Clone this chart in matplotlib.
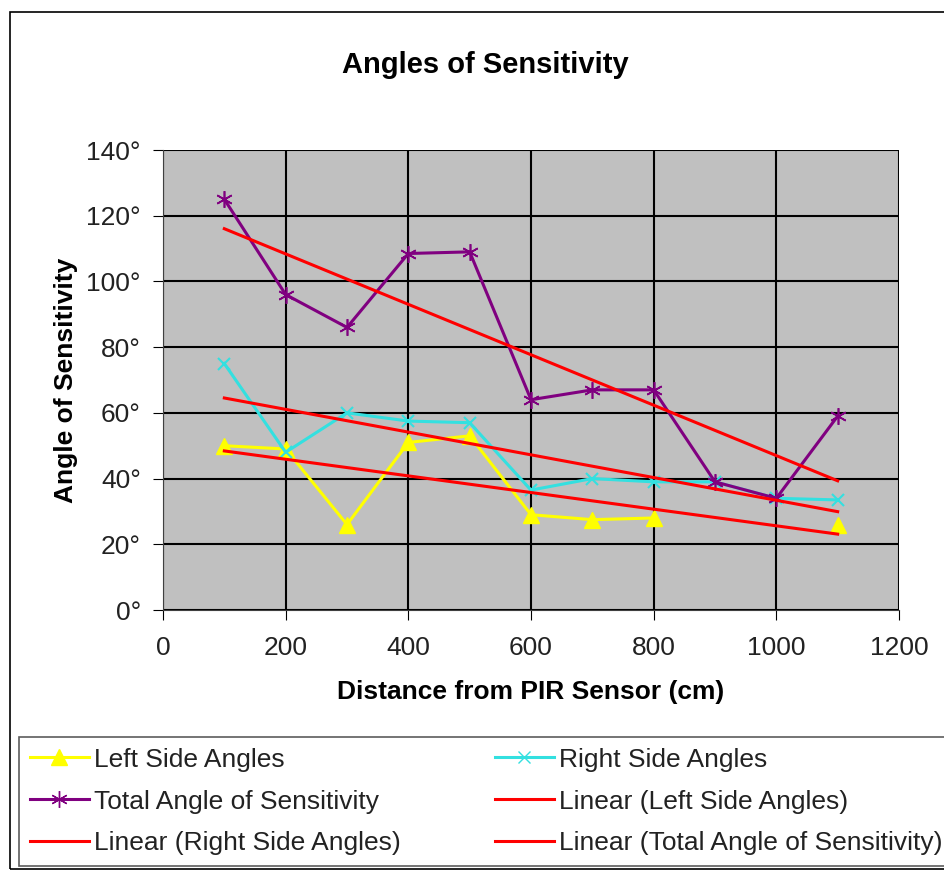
import numpy as np
import matplotlib

matplotlib.use("Agg")
import matplotlib.pyplot as plt
from matplotlib.lines import Line2D
from matplotlib.patches import Rectangle

plt.rcParams["font.family"] = ["Liberation Sans", "DejaVu Sans"]

distance = [100, 200, 300, 400, 500, 600, 700, 800, 900, 1000, 1100]
left_angles = [50, 49, 26, 51, 53, 29, 27.5, 28, np.nan, np.nan, 26]
right_angles = [75, 48, 60, 57.5, 57, 36.5, 40, 39, 39, 34, 33.5]
total_angles = [125, 96, 86, 108.5, 109, 64, 67, 67, 39, 34, 59]

YELLOW, CYAN, PURPLE, RED = "#ffff00", "#33e0e0", "#800080", "#ff0000"
TXT = "#222222"


def trend(x, y):
    # least-squares line over the points that exist, like an Excel trendline
    x = np.asarray(x, float)
    y = np.asarray(y, float)
    ok = ~np.isnan(y)
    k, b = np.polyfit(x[ok], y[ok], 1)
    xs = np.array([x.min(), x.max()])
    return xs, k * xs + b


fig = plt.figure(figsize=(9.44, 8.73), dpi=100)
fig.patches.append(Rectangle((10 / 944, 4 / 873), 1.0, 857 / 873, transform=fig.transFigure,
                             fill=False, ec="black", lw=1.2))
ax = fig.add_axes([163 / 944, 263 / 873, 736 / 944, 460 / 873])
ax.set_facecolor("#c0c0c0")

ax.plot(distance, left_angles, "-^", color=YELLOW, lw=2.2, ms=12)
ax.plot(distance, right_angles, "-x", color=CYAN, lw=2.2, ms=9, mew=1.5)
ax.plot(distance, total_angles, "-", marker=(6, 2, 0), color=PURPLE, lw=2.2, ms=12, mew=1.2)
for ys in (left_angles, right_angles, total_angles):
    tx, ty = trend(distance, ys)
    ax.plot(tx, ty, "-", color=RED, lw=2.2)

ax.set_xlim(0, 1200)
ax.set_ylim(0, 140)
ax.set_xticks(range(0, 1201, 200))
ax.set_yticks(range(0, 141, 20))
ax.set_yticklabels([f"{v}°" for v in range(0, 141, 20)])
ax.grid(color="black", lw=1.5)
ax.set_axisbelow(True)
ax.tick_params(labelsize=19, labelcolor=TXT, direction="out", length=7, color="black")
ax.tick_params(axis="x", pad=12)
ax.tick_params(axis="y", pad=9)
for s in ("top", "right"):
    ax.spines[s].set_visible(False)
ax.spines["left"].set_color("#404040")
ax.spines["bottom"].set_color("#404040")

fig.text(485 / 944, 1 - 65 / 873, "Angles of Sensitivity", fontsize=21, fontweight="bold",
         ha="center", va="center")
ax.set_xlabel("Distance from PIR Sensor (cm)", fontsize=19, fontweight="bold", labelpad=14)
ax.set_ylabel("Angle of Sensitivity", fontsize=19, fontweight="bold", labelpad=6)

handles = [
    Line2D([], [], color=YELLOW, lw=2.2, marker="^", ms=12),
    Line2D([], [], color=PURPLE, lw=2.2, marker=(6, 2, 0), ms=12),
    Line2D([], [], color=RED, lw=2.2),
    Line2D([], [], color=CYAN, lw=2.2, marker="x", ms=9),
    Line2D([], [], color=RED, lw=2.2),
    Line2D([], [], color=RED, lw=2.2),
]
labels = ["Left Side Angles", "Total Angle of Sensitivity", "Linear (Right Side Angles)",
          "Right Side Angles", "Linear (Left Side Angles)", "Linear (Total Angle of Sensitivity)"]
leg = fig.legend(handles, labels, loc="upper left", ncol=2, fontsize=19,
                 bbox_to_anchor=(19 / 944, 1 - 737 / 873), frameon=True,
                 fancybox=False, edgecolor="#333333", handlelength=2.25, handletextpad=0.2,
                 borderaxespad=0, borderpad=0.4, labelspacing=0.68, columnspacing=3.55)
leg.get_frame().set_linewidth(1.2)
for t in leg.get_texts():
    t.set_color(TXT)

fig.savefig("out.png", dpi=100)
